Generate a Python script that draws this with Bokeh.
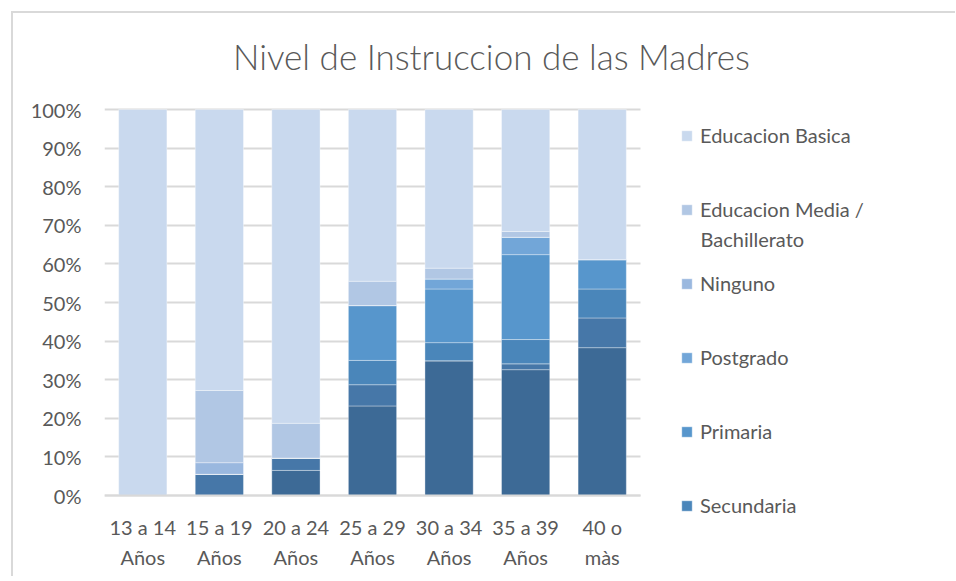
from bokeh.plotting import figure
from bokeh.models import (ColumnDataSource, Range1d, FixedTicker, PrintfTickFormatter,
                          Legend, LegendItem, LinearAxis, Label, Grid)
from bokeh.embed import file_html
from bokeh.resources import INLINE

# ---------------- data ----------------
categories = ["13 a 14 Años", "15 a 19 Años", "20 a 24 Años", "25 a 29 Años",
              "30 a 34 Años", "35 a 39 Años", "40 o màs"]
tick_line1 = ["13 a 14", "15 a 19", "20 a 24", "25 a 29", "30 a 34", "35 a 39", "40 o"]
tick_line2 = ["Años", "Años", "Años", "Años", "Años", "Años", "màs"]

# stacked bottom -> top (percent of each age group)
otros_2 = [0, 0, 6.5, 23.2, 34.9, 32.6, 38.3]       # series not listed in the visible legend (darkest)
otros_1 = [0, 5.5, 3.2, 5.5, 0, 1.5, 7.7]           # series not listed in the visible legend
secundaria = [0, 0, 0, 6.3, 4.7, 6.3, 7.5]
primaria = [0, 0, 0, 14.2, 13.9, 22.0, 7.6]
postgrado = [0, 0, 0, 0, 2.6, 4.5, 0]
ninguno = [0, 3.0, 0, 0, 0, 0, 0]
educacion_media = [0, 18.7, 9.0, 6.3, 2.8, 1.5, 0]
educacion_basica = [100, 72.8, 81.3, 44.5, 41.1, 31.6, 38.9]

series_keys = ["otros_2", "otros_1", "secundaria", "primaria", "postgrado",
               "ninguno", "educacion_media", "educacion_basica"]
colors = ["#3d6a96", "#4677a8", "#4a86ba", "#5796cc", "#72a6d8",
          "#9ab8df", "#b1c7e4", "#c9d9ee"]

y_ticks = [0, 10, 20, 30, 40, 50, 60, 70, 80, 90, 100]

legend_order = ["educacion_basica", "educacion_media", "ninguno", "postgrado", "primaria", "secundaria"]
legend_labels = ["Educacion Basica", "Educacion Media /", "Ninguno", "Postgrado", "Primaria", "Secundaria"]
legend_label2 = "Bachillerato"
title_text = "Nivel de Instruccion de las Madres"

# ---------------- layout constants (pixels) ----------------
FRAME_L, FRAME_R = 104, 945          # page x of the drawing frame
FRAME_T, FRAME_B = 13, 576           # page y of the drawing frame
PLOT_L, PLOT_R = 104, 640            # page x of the bar area (7 categories)
Y0, Y100 = 495, 109                  # page y of 0% and 100%

n = len(categories)
px_x = (PLOT_R - PLOT_L) / n
px_y = (Y0 - Y100) / 100.0
x_end = (FRAME_R - FRAME_L) / px_x
y_start = -(FRAME_B - Y0) / px_y
y_end = 100 + (Y100 - FRAME_T) / px_y


def y_at(page_y):
    return -(page_y - Y0) / px_y


xpos = [i + 0.5 for i in range(n)]

source = ColumnDataSource(dict(
    x=xpos,
    otros_2=otros_2, otros_1=otros_1, secundaria=secundaria, primaria=primaria,
    postgrado=postgrado, ninguno=ninguno, educacion_media=educacion_media,
    educacion_basica=educacion_basica,
))

FONT = "Lato"
TXT = "#595959"
GRID = "#d9d9d9"
FS = "20px"

p = figure(x_range=Range1d(0, x_end), y_range=Range1d(y_start, y_end),
           frame_width=FRAME_R - FRAME_L, frame_height=FRAME_B - FRAME_T,
           output_backend="svg", toolbar_location=None, title=None,
           min_border_left=FRAME_L - 13, min_border_right=10, min_border_top=0, min_border_bottom=0,
           margin=(11, 0, 0, 11),
           styles={"border-top": "2px solid #d9d9d9", "border-left": "2px solid #d9d9d9",
                   "border-right": "0px none", "border-bottom": "0px none"})
p.outline_line_color = None
p.background_fill_color = "white"
p.border_fill_color = "white"

renderers = p.vbar_stack(series_keys, x="x", width=0.63, source=source, color=colors,
                         line_color="white", line_alpha=0.35, line_width=1)
rmap = dict(zip(series_keys, renderers))

# y axis
p.yaxis.ticker = FixedTicker(ticks=y_ticks)
p.yaxis.formatter = PrintfTickFormatter(format="%d%%")
p.yaxis.axis_line_color = None
p.yaxis.major_tick_line_color = None
p.yaxis.minor_tick_line_color = None
p.yaxis.major_tick_out = 0
p.yaxis.major_tick_in = 0
p.yaxis.major_label_standoff = 23
p.yaxis.major_label_text_font = FONT
p.yaxis.major_label_text_font_size = FS
p.yaxis.major_label_text_color = TXT

# x axis line at 0%
xa = p.xaxis[0]
xa.fixed_location = 0
xa.bounds = (0, n)
xa.ticker = FixedTicker(ticks=[])
xa.axis_line_color = GRID
xa.axis_line_width = 2
xa.major_tick_line_color = None
xa.minor_tick_line_color = None
xa.major_tick_out = 0
xa.major_tick_in = 0
xa.major_label_text_font_size = "1px"

# two rows of category labels
for lines, page_y in ((tick_line1, 527), (tick_line2, 557)):
    ax = LinearAxis(fixed_location=y_at(page_y - 13),
                    ticker=FixedTicker(ticks=xpos),
                    major_label_overrides=dict(zip(xpos, lines)),
                    axis_line_color=None, major_tick_line_color=None,
                    minor_tick_line_color=None, major_tick_out=0, major_tick_in=0,
                    major_label_standoff=0, major_label_text_font=FONT,
                    major_label_text_font_size=FS, major_label_text_color=TXT)
    p.add_layout(ax, "below")

p.xgrid.grid_line_color = None
p.ygrid.grid_line_color = GRID
p.ygrid.grid_line_width = 2
if "cross_bounds" in Grid.properties():
    p.ygrid.cross_bounds = (0, n)
else:
    p.quad(left=n, right=x_end, bottom=-1, top=101, fill_color="white", line_color=None)

# title
p.add_layout(Label(x=491 - FRAME_L, y=FRAME_B - 55, x_units="screen", y_units="screen",
                   text=title_text, text_font="Lato Light", text_font_size="35px",
                   text_color=TXT, text_align="center", text_baseline="middle"))

# legend
items = [LegendItem(label=lab, renderers=[rmap[k]]) for k, lab in zip(legend_order, legend_labels)]
legend = Legend(items=items, location=(680 - FRAME_L, FRAME_B - 520), orientation="vertical",
                glyph_width=13, glyph_height=13, label_height=30, spacing=44,
                label_standoff=7, padding=0, margin=0,
                border_line_color=None, background_fill_alpha=0,
                label_text_font=FONT, label_text_font_size=FS, label_text_color=TXT)
p.add_layout(legend, "center")
p.add_layout(Label(x=700 - FRAME_L, y=FRAME_B - 238, x_units="screen", y_units="screen",
                   text=legend_label2, text_font=FONT, text_font_size=FS,
                   text_color=TXT, text_align="left", text_baseline="middle"))

open("out.html", "w").write(file_html(p, INLINE))
